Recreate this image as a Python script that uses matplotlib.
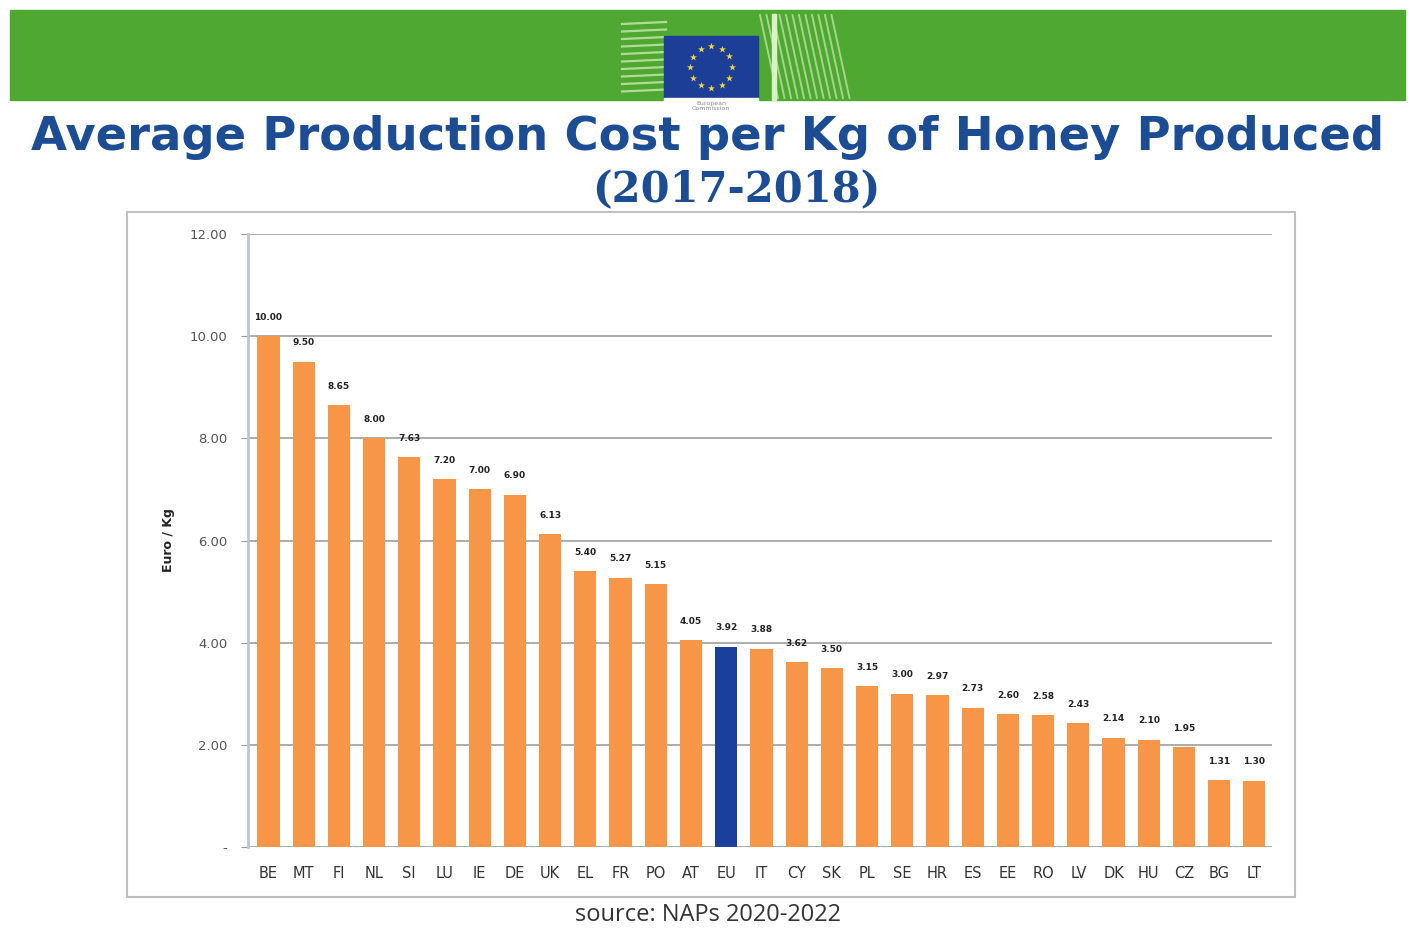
import matplotlib.pyplot as plt
import matplotlib.patches as mpatches
import numpy as np

# data
countries = ["BE", "MT", "FI", "NL", "SI", "LU", "IE", "DE", "UK", "EL", "FR", "PO", "AT", "EU",
             "IT", "CY", "SK", "PL", "SE", "HR", "ES", "EE", "RO", "LV", "DK", "HU", "CZ", "BG", "LT"]
costs = [10.00, 9.50, 8.65, 8.00, 7.63, 7.20, 7.00, 6.90, 6.13, 5.40, 5.27, 5.15, 4.05, 3.92,
         3.88, 3.62, 3.50, 3.15, 3.00, 2.97, 2.73, 2.60, 2.58, 2.43, 2.14, 2.10, 1.95, 1.31, 1.30]
yticks = [0, 2, 4, 6, 8, 10, 12]
ytick_labels = ["-", "2.00", "4.00", "6.00", "8.00", "10.00", "12.00"]

W, H = 1410, 944
fig = plt.figure(figsize=(W / 100, H / 100), dpi=100)

# decoration layer in pixel coords
bg = fig.add_axes([0, 0, 1, 1])
bg.set_xlim(0, W)
bg.set_ylim(H, 0)
bg.axis("off")

# green banner
bg.add_patch(mpatches.Rectangle((10, 10), 1395, 90, color="#4ea832", zorder=1))
# building lines
for i in range(10):
    y = 22 + i * 7.5
    bg.plot([622, 666], [y + 2, y], color="#c9eab0", lw=1.6, alpha=0.8, zorder=2)
for i in range(12):
    x = 760 + i * 6.5
    bg.plot([x, x + 18], [15, 98], color="#c9eab0", lw=1.4, alpha=0.7, zorder=2)
bg.add_patch(mpatches.Rectangle((772, 14), 4, 86, color="#d9f2c8", zorder=2))
# EU flag
bg.add_patch(mpatches.Rectangle((664, 36), 94, 62, color="#1d3e97", zorder=3))
ang = np.linspace(0, 2 * np.pi, 13)[:-1]
bg.scatter(711 + 21 * np.cos(ang), 67 + 21 * np.sin(ang), marker="*", s=28,
           color="#f2d840", zorder=4, linewidths=0)
bg.add_patch(mpatches.Rectangle((664, 98), 94, 30, color="white", zorder=3))
bg.text(711, 106, "European\nCommission", fontsize=4.5, color="#888888", ha="center",
        va="center", linespacing=1.0, zorder=4)

# titles
bg.text(708, 138, "Average Production Cost per Kg of Honey Produced", fontsize=33.5,
        fontweight="bold", color="#1c4d94", ha="center", va="center", zorder=5)
bg.text(736, 190, "(2017-2018)", fontsize=30, fontweight="bold", color="#1c4d94",
        family="DejaVu Serif", ha="center", va="center", zorder=5)

# chart frame
bg.add_patch(mpatches.Rectangle((127, 212), 1168, 685, fill=False, edgecolor="#bfbfbf",
                                lw=1.5, zorder=2))
bg.text(708, 915, "source: NAPs 2020-2022", fontsize=17, color="#333333",
        family="Open Sans", ha="center", va="center")

# main chart
ax = fig.add_axes([248 / W, 1 - 847 / H, (1272 - 248) / W, (847 - 234) / H])
ax.patch.set_alpha(0)
x = np.arange(len(countries))
colors = ["#1c3f9e" if c == "EU" else "#f79646" for c in countries]
bars = ax.bar(x, costs, width=0.63, color=colors, zorder=3)
for xi, v in zip(x, costs):
    ax.text(xi, v + 0.28, f"{v:.2f}", ha="center", va="bottom", fontsize=6.5,
            fontweight="bold", color="#222222", zorder=4)

ax.set_xlim(-0.58, 28.5)
ax.set_ylim(0, 12)
ax.set_yticks(yticks)
ax.set_yticklabels(ytick_labels, fontsize=9.5, color="#555555")
ax.set_xticks(x)
ax.set_xticklabels(countries, fontsize=10.5, color="#333333")
ax.tick_params(axis="x", length=0, pad=14)
ax.tick_params(axis="y", length=5, color="#999999", direction="out", pad=10)
ax.grid(axis="y", color="#a6a6a6", lw=1.3, zorder=0)
for s in ["top", "right", "bottom"]:
    ax.spines[s].set_visible(False)
ax.spines["left"].set_color("#b8c6d6")
ax.spines["left"].set_linewidth(2)
ax.axhline(0, color="#cccccc", lw=1, zorder=1)
ax.set_ylabel("Euro / Kg", fontsize=9, fontweight="bold", color="#222222", labelpad=10)

fig.savefig("out.png", dpi=100)
